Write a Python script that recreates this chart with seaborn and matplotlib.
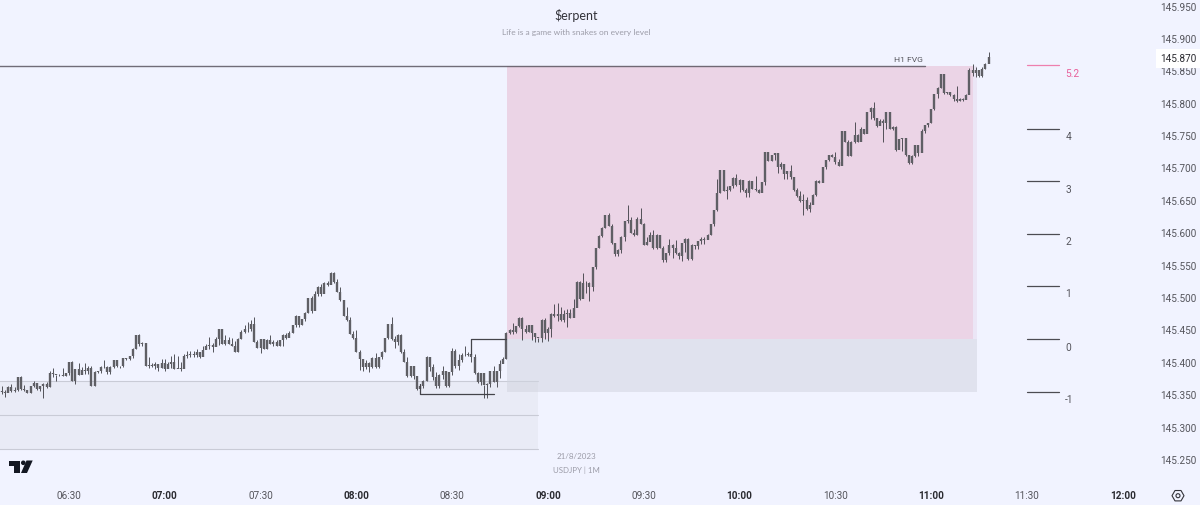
import numpy as np
import pandas as pd
import matplotlib.pyplot as plt
from matplotlib.patches import Polygon, Circle, RegularPolygon
import seaborn as sns

# USDJPY 1 minute candles. Values are thousandths above 145
first_open_m = 355
close_m = [
    353, 351, 361, 355, 357, 376, 358, 356, 352, 362,
    367, 358, 362, 366, 361, 383, 381, 379, 380, 378,
    382, 399, 370, 389, 380, 388, 385, 391, 363, 384,
    385, 392, 392, 384, 392, 403, 393, 393, 406, 405,
    409, 420, 441, 427, 429, 393, 395, 393, 396, 391,
    398, 389, 396, 400, 389, 391, 389, 409, 411, 412,
    410, 415, 407, 418, 424, 426, 423, 435, 450, 428,
    433, 427, 425, 415, 435, 446, 451, 450, 458, 431,
    422, 435, 420, 434, 428, 431, 425, 434, 442, 436,
    444, 457, 471, 456, 466, 476, 499, 478, 505, 516,
    504, 522, 518, 537, 523, 507, 495, 471, 464, 443,
    436, 415, 405, 392, 398, 392, 406, 392, 407, 415,
    436, 459, 435, 431, 442, 415, 400, 378, 394, 378,
    358, 362, 370, 408, 392, 376, 362, 380, 385, 363,
    384, 416, 393, 402, 411, 411, 412, 408, 382, 368,
    382, 364, 366, 385, 368, 385, 397, 405, 445, 449,
    446, 455, 468, 450, 446, 456, 445, 438, 436, 464,
    444, 451, 473, 470, 474, 465, 474, 475, 468, 483,
    523, 497, 522, 521, 515, 546, 575, 594, 606, 626,
    609, 583, 566, 572, 593, 617, 619, 599, 596, 621,
    613, 581, 585, 596, 575, 596, 576, 557, 568, 581,
    575, 568, 563, 583, 590, 558, 580, 578, 587, 590,
    588, 595, 612, 634, 661, 696, 664, 665, 671, 684,
    673, 681, 665, 660, 679, 667, 665, 661, 677, 724,
    710, 719, 723, 700, 705, 690, 695, 685, 665, 656,
    648, 650, 636, 642, 658, 679, 676, 700, 711, 720,
    716, 709, 703, 757, 739, 717, 740, 750, 740, 760,
    752, 786, 792, 776, 764, 772, 769, 785, 760, 762,
    727, 744, 745, 719, 707, 718, 735, 722, 757, 765,
    769, 790, 813, 822, 844, 815, 816, 812, 805, 802,
    806, 804, 812, 851, 846, 851, 841, 852, 860, 870,
]
high_m = [
    362, 357, 362, 365, 361, 376, 378, 364, 356, 362,
    371, 366, 363, 367, 368, 385, 391, 380, 381, 391,
    383, 399, 401, 389, 398, 392, 398, 393, 393, 386,
    386, 393, 402, 393, 393, 403, 395, 394, 406, 406,
    409, 421, 441, 443, 430, 428, 408, 398, 399, 396,
    404, 405, 399, 409, 412, 409, 399, 412, 416, 416,
    417, 419, 414, 424, 427, 439, 429, 439, 451, 451,
    441, 438, 437, 432, 436, 449, 457, 462, 464, 469,
    433, 435, 434, 435, 441, 433, 434, 434, 443, 444,
    448, 457, 472, 471, 466, 477, 499, 502, 510, 517,
    520, 523, 524, 538, 539, 528, 515, 494, 484, 469,
    448, 449, 418, 404, 402, 399, 407, 413, 407, 416,
    436, 459, 469, 440, 443, 443, 420, 407, 394, 394,
    377, 366, 372, 409, 408, 396, 384, 381, 394, 384,
    384, 422, 420, 412, 413, 425, 415, 414, 412, 384,
    383, 364, 367, 386, 394, 386, 402, 407, 446, 450,
    460, 455, 469, 469, 457, 457, 455, 440, 437, 466,
    468, 453, 475, 489, 490, 484, 480, 481, 481, 497,
    524, 524, 537, 524, 523, 547, 576, 595, 608, 627,
    629, 613, 584, 574, 594, 618, 642, 623, 605, 623,
    637, 615, 592, 600, 603, 597, 595, 578, 568, 590,
    582, 588, 570, 584, 591, 591, 582, 580, 587, 592,
    592, 597, 613, 635, 683, 696, 694, 671, 672, 685,
    690, 682, 678, 669, 680, 679, 687, 667, 677, 724,
    724, 719, 723, 723, 708, 700, 695, 704, 682, 669,
    664, 659, 654, 646, 659, 680, 681, 700, 712, 720,
    721, 724, 713, 757, 756, 743, 741, 770, 752, 763,
    760, 786, 794, 801, 775, 775, 775, 785, 785, 764,
    764, 744, 745, 745, 719, 719, 735, 734, 759, 766,
    769, 790, 813, 824, 844, 842, 816, 815, 813, 826,
    807, 807, 813, 853, 860, 855, 851, 855, 862, 878,
]
low_m = [
    350, 346, 353, 353, 353, 355, 356, 355, 351, 351,
    361, 356, 355, 344, 360, 361, 377, 371, 378, 378,
    378, 379, 370, 366, 380, 381, 381, 381, 363, 363,
    382, 383, 391, 381, 381, 391, 392, 391, 392, 402,
    403, 406, 419, 425, 425, 393, 390, 392, 389, 386,
    391, 386, 393, 391, 389, 390, 385, 391, 406, 407,
    407, 408, 406, 414, 419, 420, 415, 425, 426, 427,
    426, 427, 425, 415, 415, 435, 445, 446, 448, 431,
    422, 413, 420, 420, 428, 424, 424, 424, 424, 435,
    441, 444, 453, 453, 456, 463, 476, 476, 494, 502,
    502, 512, 517, 522, 522, 507, 494, 470, 463, 443,
    435, 415, 388, 385, 389, 384, 391, 391, 391, 404,
    415, 435, 434, 421, 426, 414, 399, 376, 376, 373,
    357, 350, 359, 371, 386, 372, 360, 360, 373, 361,
    361, 379, 391, 387, 399, 409, 409, 399, 381, 367,
    364, 344, 344, 361, 368, 361, 375, 399, 404, 443,
    443, 445, 453, 433, 445, 446, 433, 430, 430, 430,
    435, 432, 438, 469, 463, 463, 462, 453, 468, 474,
    497, 496, 517, 506, 494, 510, 543, 575, 592, 606,
    609, 582, 564, 564, 568, 587, 615, 599, 594, 596,
    612, 580, 580, 590, 574, 574, 575, 554, 554, 565,
    561, 566, 559, 555, 569, 557, 557, 574, 574, 582,
    582, 590, 595, 610, 633, 661, 664, 652, 664, 669,
    672, 662, 664, 654, 654, 667, 664, 660, 662, 673,
    710, 710, 712, 692, 698, 683, 682, 682, 664, 654,
    646, 627, 635, 632, 645, 656, 676, 677, 698, 710,
    716, 705, 702, 713, 739, 717, 717, 738, 740, 741,
    752, 753, 775, 774, 762, 767, 740, 759, 759, 758,
    726, 729, 726, 718, 705, 705, 716, 717, 733, 753,
    762, 769, 789, 808, 822, 814, 813, 810, 802, 801,
    803, 803, 805, 813, 841, 839, 839, 839, 852, 861,
]

# levels drawn on the chart
fib_levels = ['5.2', '4', '3', '2', '1', '0', '-1']
fib_prices = [145.858, 145.760, 145.679, 145.598, 145.517, 145.435, 145.354]
fvg_price = 145.857
box_top = 145.857
box_mid = 145.435
box_bottom = 145.353
zone_prices = [145.371, 145.318, 145.266]
y_ticks = [145.25, 145.30, 145.35, 145.40, 145.45, 145.50, 145.55, 145.60,
           145.65, 145.70, 145.75, 145.80, 145.85, 145.87, 145.90, 145.95]
day = '2023-08-21 '

BG = '#f1f3ff'
BODY = '#5f5f65'
WICK = '#3a3a40'
TXT = '#55555c'
FAINT = '#9c9ca8'
PINK = '#ee7fae'


def t(hhmm):
    return pd.Timestamp(day + hhmm)


times = pd.date_range(day + '06:09', periods=len(close_m), freq='min')
close = 145 + np.array(close_m) / 1000
high = 145 + np.array(high_m) / 1000
low = 145 + np.array(low_m) / 1000
open_ = np.concatenate([[145 + first_open_m / 1000], close[:-1]])

wicks = pd.DataFrame({
    'time': np.tile(times, 2),
    'price': np.concatenate([low, high]),
    'candle': np.tile(np.arange(len(times)), 2),
})
bodies = pd.DataFrame({
    'time': np.tile(times, 2),
    'price': np.concatenate([open_, close]),
    'candle': np.tile(np.arange(len(times)), 2),
})

sns.set_theme(style='white', rc={'axes.facecolor': BG, 'figure.facecolor': BG})
plt.rcParams['font.family'] = ['Roboto', 'DejaVu Sans']

fig = plt.figure(figsize=(12, 5.06), dpi=100)
ax = fig.add_axes([0, 25 / 506, 1148 / 1200, 481 / 506])

# boxes behind the candles
ax.fill_between([t('06:00'), t('08:57')], zone_prices[2], zone_prices[0], color='#e9ebf6', lw=0, zorder=1)
for p in zone_prices:
    ax.plot([t('06:00'), t('08:57')], [p, p], color='#c9cbd6', lw=0.8, zorder=1.5)
ax.fill_between([t('08:47:15'), t('11:14:30')], box_mid, box_top, color='#ebe6f6', lw=0, zorder=1)
ax.fill_between([t('08:47:15'), t('11:13')], box_mid, box_top, color='#ebd4e6', lw=0, zorder=1.2)
ax.fill_between([t('08:47:15'), t('11:14:30')], box_bottom, box_mid, color='#d2d5e0', alpha=0.55, lw=0, zorder=1.6)

sns.lineplot(data=wicks, x='time', y='price', units='candle', estimator=None,
             color=WICK, linewidth=0.6, solid_capstyle='butt', ax=ax, zorder=3)
sns.lineplot(data=bodies, x='time', y='price', units='candle', estimator=None,
             color=BODY, linewidth=1.7, solid_capstyle='butt', ax=ax, zorder=4)

# H1 FVG line
ax.plot([t('06:00'), t('10:58')], [fvg_price, fvg_price], color='#5a5560', lw=1.0, alpha=0.85, zorder=2)
ax.text(t('10:48:30'), fvg_price + 0.0105, 'H1 FVG', fontsize=6.1, color=TXT, va='center', ha='left')

# swing markers
ax.plot([t('08:36'), t('08:36'), t('08:47')], [145.412, box_mid, box_mid], color='#44444a', lw=0.9, zorder=5)
ax.plot([t('08:20'), t('08:20'), t('08:43')], [145.366, 145.350, 145.350], color='#44444a', lw=0.9, zorder=5)

# fib ladder
for name, p in zip(fib_levels, fib_prices):
    col = PINK if name == '5.2' else '#4c4c52'
    ax.plot([t('11:30'), t('11:40')], [p, p], color=col, lw=0.9, zorder=2)
    ax.text(t('11:42'), p - 0.0115, name, fontsize=7.3, va='center', ha='left',
            color='#e8609a' if name == '5.2' else TXT)

ax.set_xlim(t('06:08:24'), t('12:07:54'))
ax.set_ylim(145.2174, 145.9602)
ax.set_xlabel('')
ax.set_ylabel('')

x_ticks = pd.date_range(day + '06:30', day + '12:00', freq='30min')
ax.set_xticks(x_ticks)
ax.set_xticklabels([x.strftime('%H:%M') for x in x_ticks])
ax.tick_params(axis='x', length=0, pad=7.5, labelsize=7.2)
for x, lab in zip(x_ticks, ax.get_xticklabels()):
    if x.minute == 0:
        lab.set_fontweight('bold')
        lab.set_color('#2a2a30')
    else:
        lab.set_color(TXT)

ax.yaxis.tick_right()
ax.set_yticks(y_ticks)
ax.set_yticklabels(['%.3f' % v for v in y_ticks])
ax.tick_params(axis='y', length=0, pad=8.5, labelsize=7.2, labelcolor=TXT)
for v, lab in zip(y_ticks, ax.get_yticklabels()):
    if v == 145.87:
        lab.set_color('#2a2a30')
        lab.set_bbox(dict(facecolor='white', edgecolor='none', pad=3))
sns.despine(ax=ax, left=True, bottom=True, right=True, top=True)

# text in the middle of the picture
lato = ['Lato', 'DejaVu Sans']
fig.text(576 / 1200, 1 - 15.5 / 506, '$erpent', fontsize=9, color='#33333a', ha='center', va='center',
         parse_math=False, family=lato)
fig.text(576 / 1200, 1 - 32.5 / 506, 'Life is a game with snakes on every level', fontsize=6,
         color=FAINT, ha='center', va='center', family=lato)
fig.text(576 / 1200, 1 - 457 / 506, '21/8/2023', fontsize=5.8, color=FAINT, ha='center', va='center', family=lato)
fig.text(576 / 1200, 1 - 470 / 506, 'USDJPY | 1M', fontsize=5.7, color=FAINT, ha='center', va='center', family=lato)

# logo and settings icon, drawn in pixels
top = fig.add_axes([0, 0, 1, 1], facecolor='none')
top.set_xlim(0, 1200)
top.set_ylim(506, 0)
top.axis('off')
top.add_patch(Polygon([(8.5, 461.5), (20, 461.5), (20, 474), (14, 474), (14, 466.5), (8.5, 466.5)], color='#131722', lw=0))
top.add_patch(Circle((23.3, 463.8), 2.3, color='#131722', lw=0))
top.add_patch(Polygon([(26.5, 461.5), (32.7, 461.5), (27, 474), (21, 474)], color='#131722', lw=0))
top.add_patch(RegularPolygon((1178, 496.7), 6, radius=6, orientation=np.pi / 6, fill=False, ec='#33333a', lw=0.8))
top.add_patch(Circle((1178, 496.7), 2, fill=False, ec='#33333a', lw=0.8))

plt.savefig('out.png', dpi=100, facecolor=BG)
